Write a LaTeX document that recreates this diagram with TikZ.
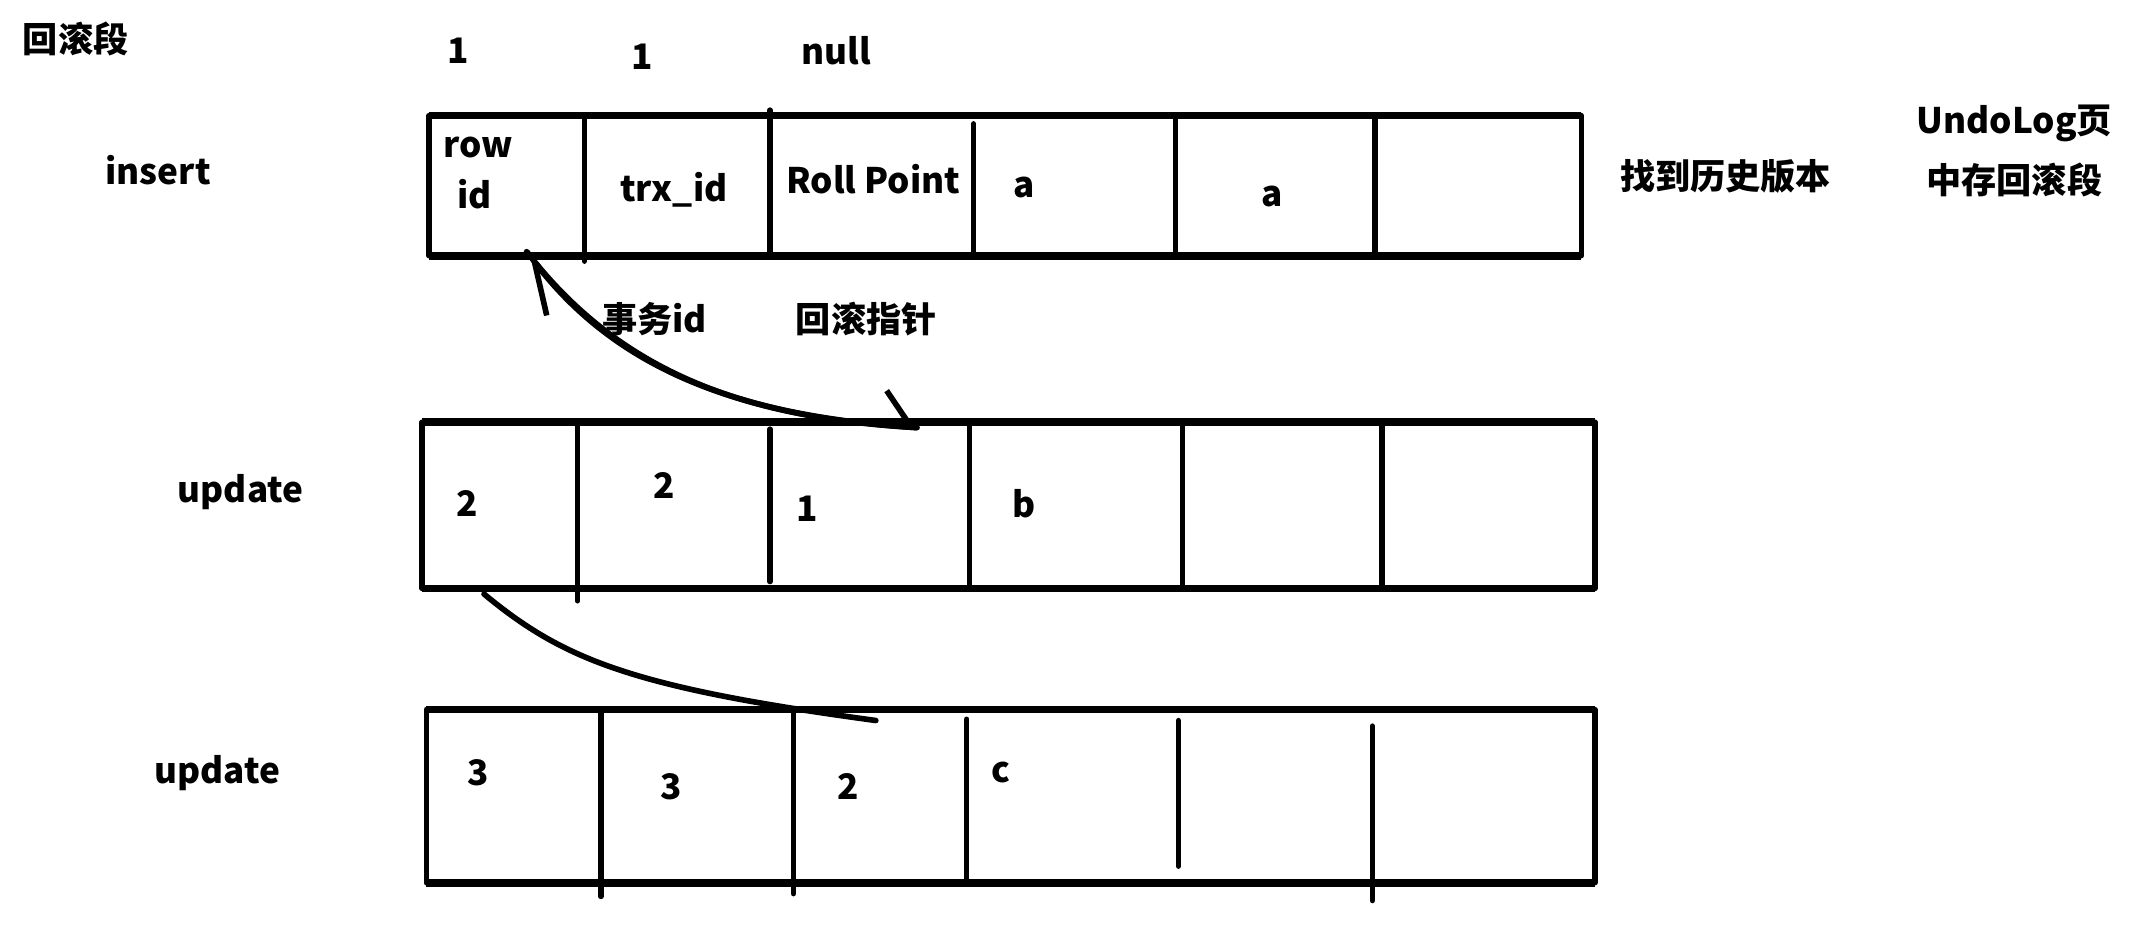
\documentclass[tikz,border=0pt]{standalone}
\usepackage{fontspec}
\setmainfont{Noto Sans CJK SC}
\usepackage{xcolor}
\usepackage{tikz}
\usetikzlibrary{arrows.meta}
\definecolor{ink}{HTML}{000000}
\definecolor{paper}{HTML}{FFFFFF}
\tikzset{
  edge/.style={draw=ink, line width=2.2pt},
  side/.style={draw=ink, line width=1.5pt, line cap=round},
  link/.style={draw=ink, line width=1.6pt, line cap=round},
  tipa/.style={-{Straight Barb[left, length=2.7mm, width=7mm, line width=1.6pt]}},
  tipb/.style={-{Straight Barb[left, length=5mm, width=4.6mm, line width=1.6pt]}},
  lab/.style={text=ink, font=\bfseries\fontsize{10}{12}\selectfont, inner sep=0pt},
}
\begin{document}
\begin{tikzpicture}[x=0.01375cm, y=-0.01375cm]
\fill[paper] (0,0) rectangle (1568,678);

% three rows
\foreach \l/\t/\r/\b in {312/84/1150/186, 307/307/1160/428, 310/516/1160/642}{
  \draw[edge] (\l,\t) -- (\r,\t);
  \draw[edge] (\l,\b) -- (\r,\b);
  \draw[side] (\l,\t) -- (\l,\b);
  \draw[side] (\r,\t) -- (\r,\b);
}
% dividers
\foreach \x/\a/\b in {425/86/190, 560/80/186, 708/90/186, 855/86/186, 1000/86/186,
                      420/310/437, 560/312/423, 705/310/428, 860/310/428, 1005/310/428,
                      437/518/652, 577/518/650, 703/523/640, 857/524/630, 998/528/655}{
  \draw[side] (\x,\a) -- (\x,\b);
}

\node[lab] (hgd) at (55,28) {回滚段};
\node[lab] (v1) at (333,37) {1};
\node[lab] (v2) at (467,41) {1};
\node[lab] (v3) at (608,37) {null};

\node[lab] (ins) at (115,124) {insert};
\node[lab, anchor=west] (rid1) at (322,107) {row};
\node[lab, anchor=west] (rid2) at (332,141) {id};
\node[lab] (tid) at (490,138) {trx\_id};
\node[lab] (rp) at (635,130) {Roll Point};
\node[lab] (a1) at (745,136) {a};
\node[lab] (a2) at (925,143) {a};
\node[lab] (find) at (1255,128) {找到历史版本};
\node[lab] (udl) at (1465,90) {UndoLog页};
\node[lab] (udl2) at (1465,131) {中存回滚段};

\node[lab] (swid) at (476,232) {事务id};
\node[lab] (hgzz) at (630,232) {回滚指针};

\node[lab] (up1) at (175,358) {update};
\node[lab] (b1) at (340,366) {2};
\node[lab] (b2) at (483,353) {2};
\node[lab] (b3) at (587,370) {1};
\node[lab] (b4) at (745,366) {b};

\node[lab] (up2) at (158,562) {update};
\node[lab] (c1) at (348,562) {3};
\node[lab] (c2) at (488,572) {3};
\node[lab] (c3) at (617,572) {2};
\node[lab] (c4) at (728,562) {c};

\coordinate (p1) at (383,183);
\coordinate (p2) at (667,311);
\coordinate (q1) at (352,432);
\coordinate (q2) at (637,524);
\draw[link, tipa] (p1) .. controls (450,270) and (540,303) .. (p2);
\draw[link, tipb] (p2) .. controls (540,303) and (450,270) .. (p1);
\draw[link] (q1) .. controls (410,480) and (460,500) .. (q2);
\end{tikzpicture}
\end{document}
